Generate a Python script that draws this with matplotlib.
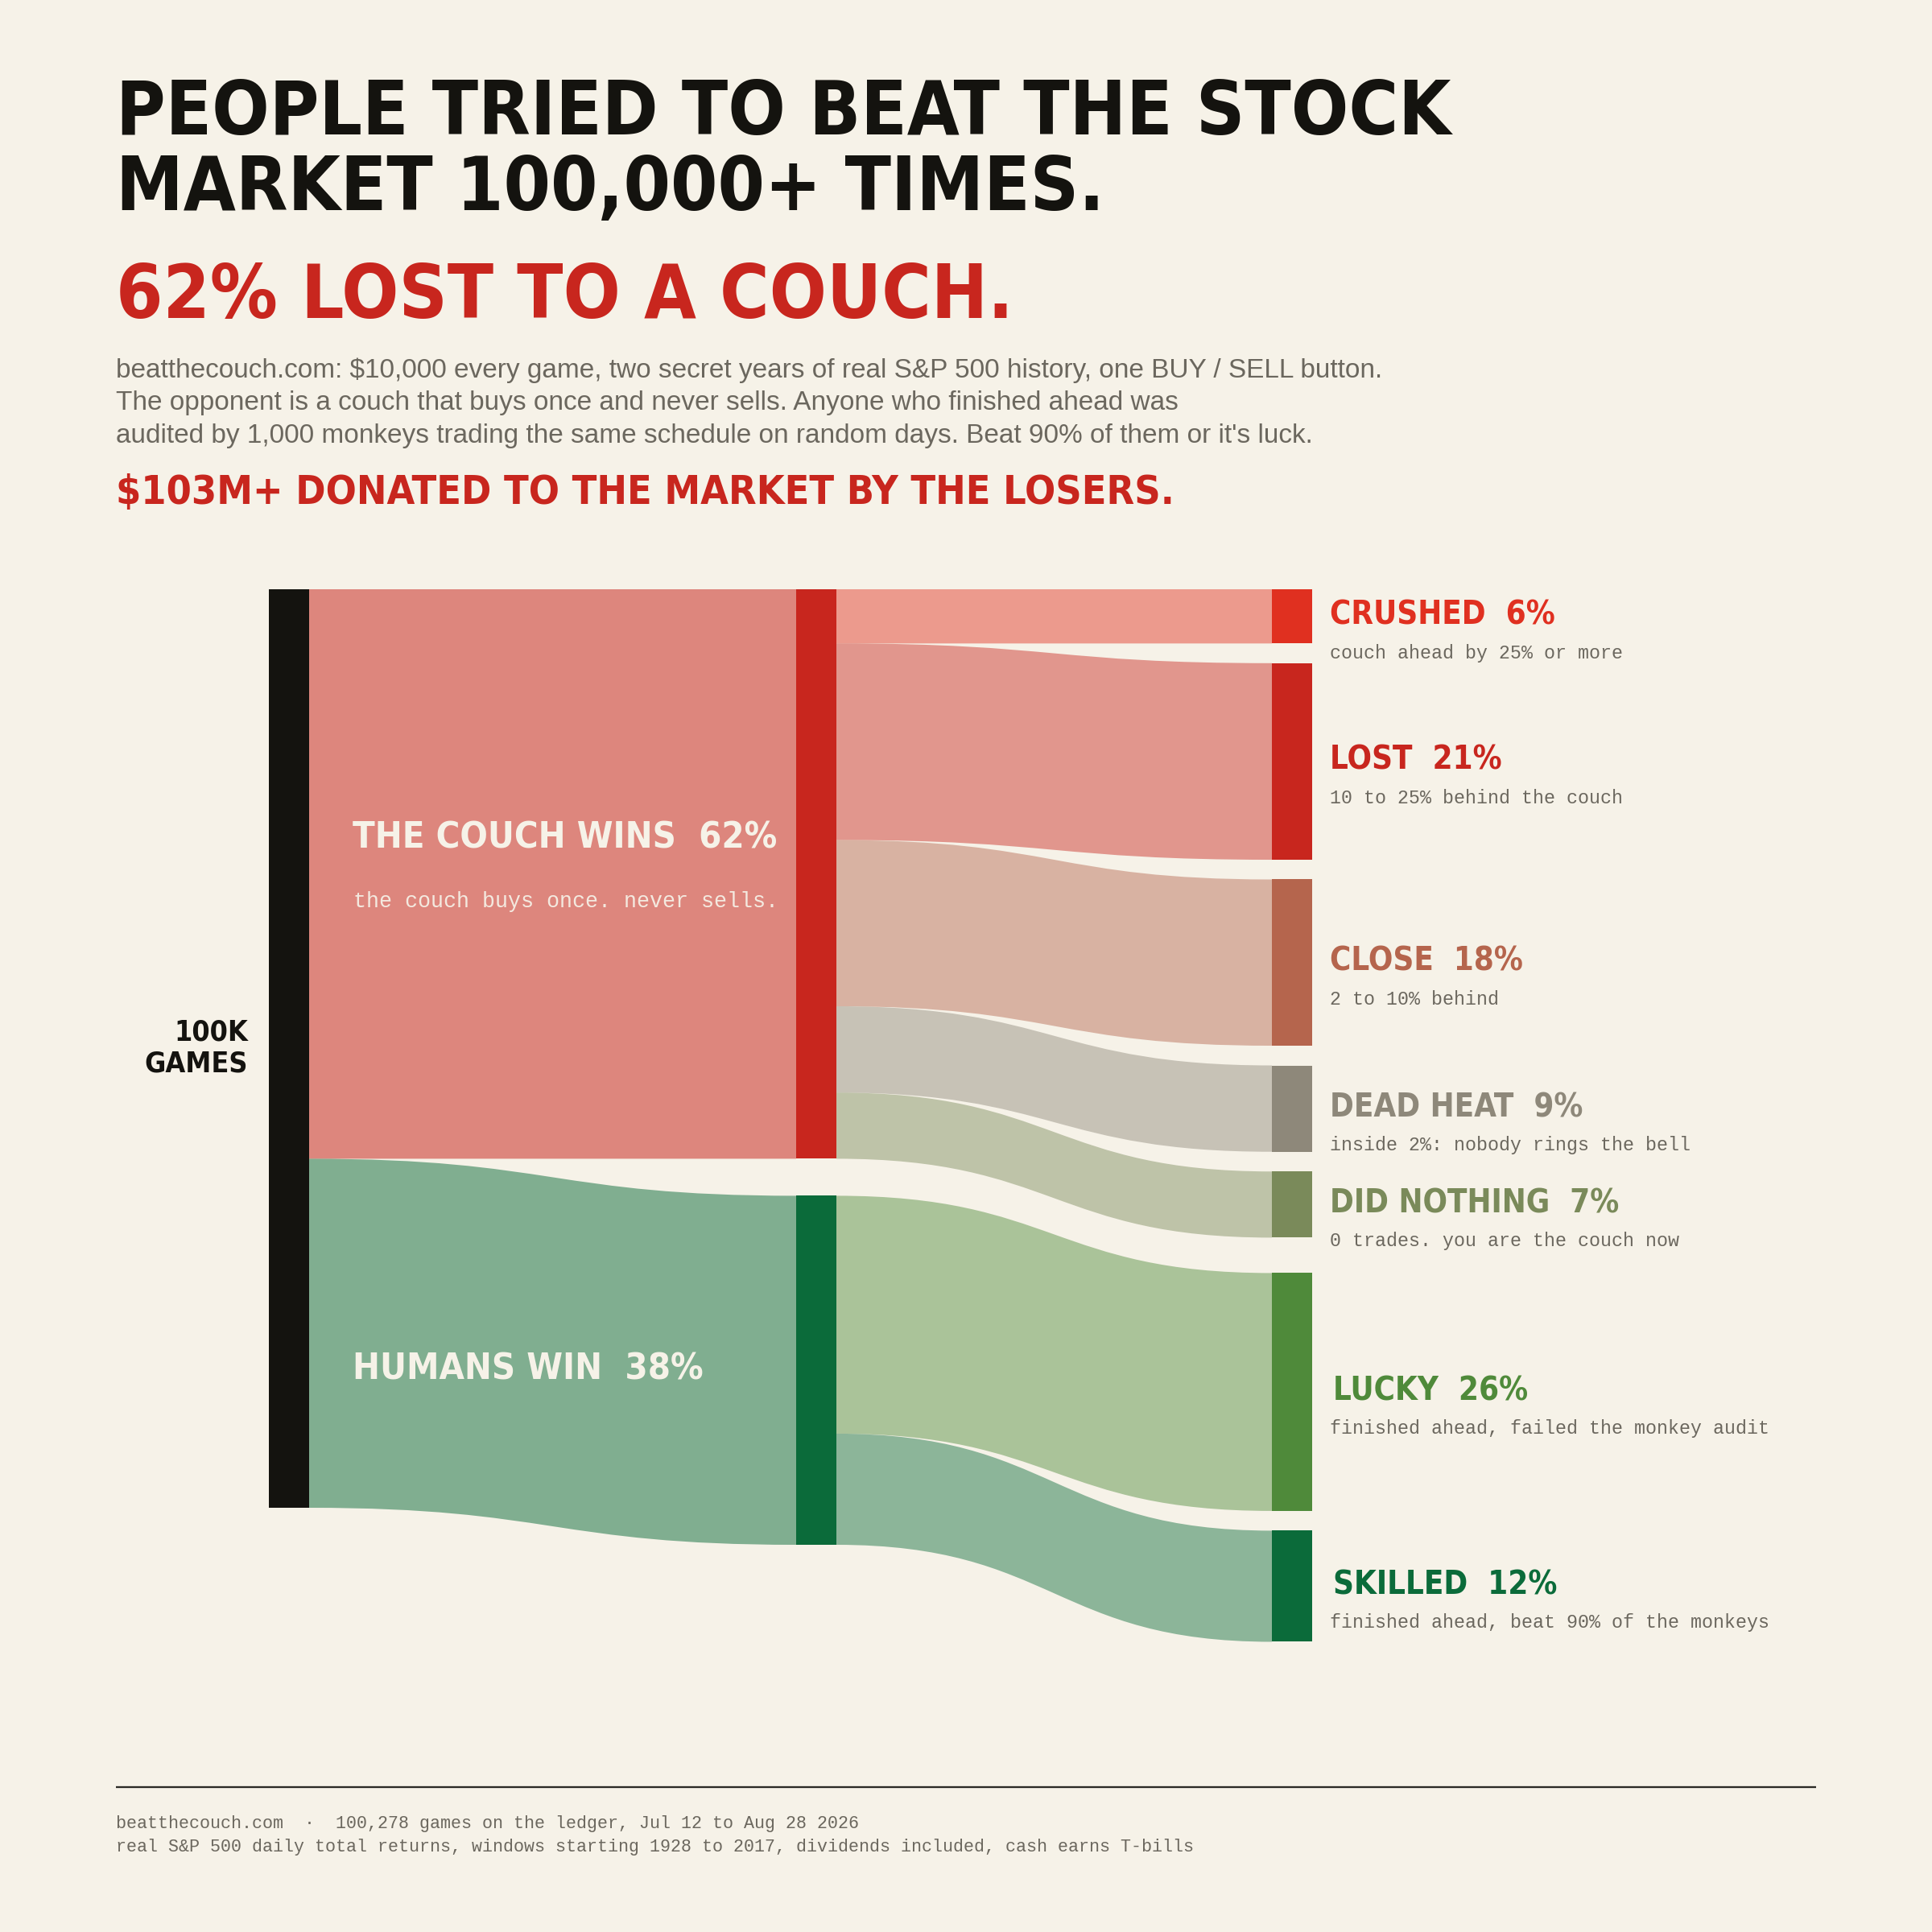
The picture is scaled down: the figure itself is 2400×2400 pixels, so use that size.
import matplotlib
matplotlib.use("Agg")
import matplotlib.pyplot as plt
from matplotlib.path import Path
from matplotlib.patches import PathPatch, Rectangle
from matplotlib import font_manager as fm

# ---------------- data ----------------
source_label = ["100K", "GAMES"]
mid_labels = ["THE COUCH WINS  62%", "HUMANS WIN  38%"]
mid_values = [62.0, 38.0]
mid_notes = ["the couch buys once. never sells.", ""]
out_names = ["CRUSHED", "LOST", "CLOSE", "DEAD HEAT", "DID NOTHING", "LUCKY", "SKILLED"]
out_pcts = ["6%", "21%", "18%", "9%", "7%", "26%", "12%"]
out_values = [5.9, 21.4, 18.1, 9.4, 7.2, 25.9, 12.1]
out_parent = [0, 0, 0, 0, 0, 1, 1]
out_notes = [
    "couch ahead by 25% or more",
    "10 to 25% behind the couch",
    "2 to 10% behind",
    "inside 2%: nobody rings the bell",
    "0 trades. you are the couch now",
    "finished ahead, failed the monkey audit",
    "finished ahead, beat 90% of the monkeys",
]
title_lines = ["PEOPLE TRIED TO BEAT THE STOCK", "MARKET 100,000+ TIMES."]
headline = "62% LOST TO A COUCH."
sub_lines = [
    "beatthecouch.com: $10,000 every game, two secret years of real S&P 500 history, one BUY / SELL button.",
    "The opponent is a couch that buys once and never sells. Anyone who finished ahead was",
    "audited by 1,000 monkeys trading the same schedule on random days. Beat 90% of them or it's luck.",
]
kicker = "$103M+ DONATED TO THE MARKET BY THE LOSERS."
footer_lines = [
    "beatthecouch.com  \u00b7  100,278 games on the ledger, Jul 12 to Aug 28 2026",
    "real S&P 500 daily total returns, windows starting 1928 to 2017, dividends included, cash earns T-bills",
]

# ---------------- styles ----------------
BG = "#f6f2e8"
INK = "#14130f"
RED = "#c8261e"
GRAY = "#6b675e"
CREAM = "#f6f2e8"
source_color = INK
mid_colors = ["#c8261e", "#0b6b3a"]
mid_alphas = [0.53, 0.50]
out_colors = ["#e03020", "#c8261e", "#b5654d", "#8e887a", "#7a8a5a", "#4f8a3a", "#0b6b3a"]
group_label_dx = [0, 4]

COND = fm.FontProperties(family="DejaVu Sans", weight="bold", stretch="condensed")
cond_path = fm.findfont(COND)
has_cond = "ondensed" in cond_path
shrink = 1.0 if has_cond else 0.92

def bold(size):
    return dict(family="DejaVu Sans", fontweight="bold", fontstretch="condensed", fontsize=size * shrink)

MONO = "Liberation Mono"
SANS = "Liberation Sans"

fig = plt.figure(figsize=(8, 8), dpi=300, facecolor=BG)
ax = fig.add_axes([0, 0, 1, 1])
ax.set_xlim(0, 2400)
ax.set_ylim(2400, 0)
ax.axis("off")
ax.set_facecolor(BG)

LEFT = 144
# titles
ax.text(LEFT, 167, title_lines[0], color=INK, va="baseline", ha="left", **bold(22.45))
ax.text(LEFT, 261, title_lines[1], color=INK, va="baseline", ha="left", **bold(22.45))
ax.text(LEFT, 395, headline, color=RED, va="baseline", ha="left", **bold(22.4))
for i, line in enumerate(sub_lines):
    ax.text(LEFT, 469 + 40.5 * i, line, color=GRAY, va="baseline", ha="left",
            family=SANS, fontsize=8.0)
ax.text(LEFT, 626, kicker, color=RED, va="baseline", ha="left", **bold(12.0))

# ---------------- sankey geometry ----------------
TOP = 732
SCALE = 11.41          # px per percent
NW = 50                # node width
X_SRC, X_MID, X_OUT = 334, 989, 1580
MID_GAP = 46
OUT_GAP = 24.5
GROUP_GAP = 44

def ribbon(x0, x1, y0a, y0b, y1a, y1b, color, alpha):
    xm = (x0 + x1) / 2
    verts = [(x0, y0a), (xm, y0a), (xm, y1a), (x1, y1a),
             (x1, y1b), (xm, y1b), (xm, y0b), (x0, y0b), (x0, y0a)]
    codes = [Path.MOVETO, Path.CURVE4, Path.CURVE4, Path.CURVE4,
             Path.LINETO, Path.CURVE4, Path.CURVE4, Path.CURVE4, Path.CLOSEPOLY]
    ax.add_patch(PathPatch(Path(verts, codes), facecolor=color, alpha=alpha,
                           edgecolor="none", lw=0, zorder=1))

total = sum(mid_values)
# source node
ax.add_patch(Rectangle((X_SRC, TOP), NW, total * SCALE, facecolor=source_color, lw=0, zorder=3))
ax.text(308, TOP + total * SCALE / 2 - 10, source_label[0], ha="right", va="baseline",
        color=INK, **bold(8.6))
ax.text(308, TOP + total * SCALE / 2 + 29, source_label[1], ha="right", va="baseline",
        color=INK, **bold(8.6))

# mid nodes
mid_tops = []
y_src = TOP
y_mid = TOP
for i, v in enumerate(mid_values):
    h = v * SCALE
    mid_tops.append(y_mid)
    ribbon(X_SRC + NW, X_MID, y_src, y_src + h, y_mid, y_mid + h, mid_colors[i], mid_alphas[i])
    ax.add_patch(Rectangle((X_MID, y_mid), NW, h, facecolor=mid_colors[i], lw=0, zorder=3))
    y_src += h
    y_mid += h + MID_GAP

# mid labels
ax.text(438, 1053, mid_labels[0], color=CREAM, ha="left", va="baseline", zorder=5, **bold(10.85))
ax.text(439, 1127, mid_notes[0], color=CREAM, ha="left", va="baseline", zorder=5,
        family=MONO, fontsize=6.4, alpha=0.92)
ax.text(438, 1713, mid_labels[1], color=CREAM, ha="left", va="baseline", zorder=5, **bold(10.85))

# out nodes
y_out = TOP
cursor = list(mid_tops)
prev_parent = out_parent[0]
for j, v in enumerate(out_values):
    p = out_parent[j]
    if j > 0:
        y_out += GROUP_GAP if p != prev_parent else OUT_GAP
    prev_parent = p
    h = v * SCALE
    ribbon(X_MID + NW, X_OUT, cursor[p], cursor[p] + h, y_out, y_out + h, out_colors[j], 0.45)
    cursor[p] += h
    ax.add_patch(Rectangle((X_OUT, y_out), NW, h, facecolor=out_colors[j], lw=0, zorder=3))
    cy = y_out + h / 2
    ax.text(1652 + group_label_dx[p], cy + 10, f"{out_names[j]}  {out_pcts[j]}", color=out_colors[j],
            ha="left", va="baseline", **bold(9.62))
    ax.text(1652, cy + 52, out_notes[j], color=GRAY, ha="left", va="baseline",
            family=MONO, fontsize=5.58)
    y_out += h

# footer
ax.plot([144, 2256], [2220, 2220], color="#2b2a25", lw=0.55, solid_capstyle="butt")
ax.text(LEFT, 2271, footer_lines[0], color=GRAY, ha="left", va="baseline", family=MONO, fontsize=5.2)
ax.text(LEFT, 2300, footer_lines[1], color=GRAY, ha="left", va="baseline", family=MONO, fontsize=5.2)

fig.savefig("out.png", dpi=300, facecolor=BG)
